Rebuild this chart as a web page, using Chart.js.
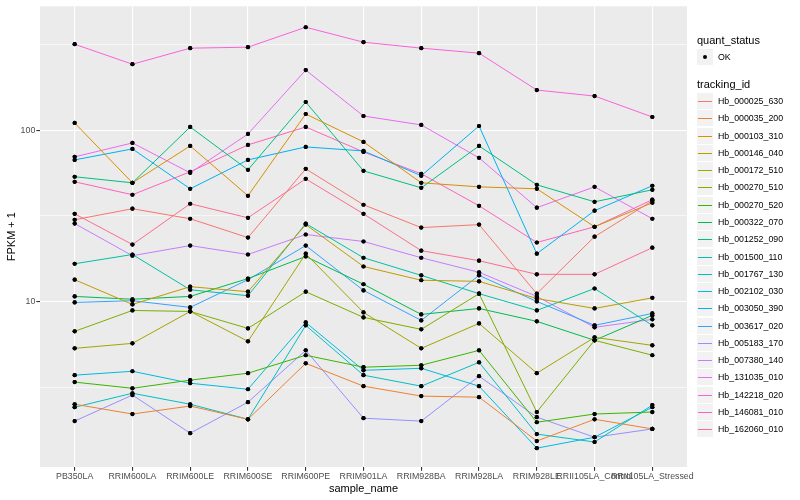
<!DOCTYPE html>
<html>
<head>
<meta charset="utf-8">
<script src="https://cdn.jsdelivr.net/npm/chart.js@4.4.1/dist/chart.umd.min.js"></script>
<style>
  html, body { margin: 0; padding: 0; background: #fff; }
  #wrap { position: relative; width: 800px; height: 500px; font-family: "Liberation Sans", Arial, sans-serif; }
  #wrap canvas { position: absolute; left: 0; top: 0; }
  .lg-title { position: absolute; left: 697px; font-size: 11px; line-height: 14px; height: 14px; color: #000; white-space: nowrap; }
  .lg-key { position: absolute; left: 697px; width: 16px; height: 16px; background: #F2F2F2; }
  .lg-line { position: absolute; left: 1px; right: 1px; top: 8px; height: 1px; }
  .lg-dot { position: absolute; left: 6px; top: 6px; width: 4px; height: 4px; border-radius: 2px; background: #000; }
  .lg-label { position: absolute; left: 718px; font-size: 8.8px; line-height: 12px; height: 12px; color: #000; white-space: nowrap; }
</style>
</head>
<body>
<div id="wrap">
  <canvas id="chart" width="800" height="500"></canvas>
</div>
<script>
// ---- data (FPKM + 1) ----
var categories = ['PB350LA', 'RRIM600LA', 'RRIM600LE', 'RRIM600SE', 'RRIM600PE', 'RRIM901LA',
                  'RRIM928BA', 'RRIM928LA', 'RRIM928LE', 'RRII105LA_Control', 'RRII105LA_Stressed'];
var yTicks = [10, 100];
var yMinorTicks = [3.162, 31.62, 316.2];

var hb_000025_630 = [30.0, 34.8, 30.4, 23.6, 59.5, 36.7, 27.0, 28.1, 11.1, 23.9, 38.7];
var hb_000035_200 = [2.51, 2.20, 2.45, 2.05, 4.35, 3.20, 2.80, 2.76, 1.53, 2.05, 1.80];
var hb_000103_310 = [110.3, 49.3, 81.0, 41.4, 124.4, 85.5, 49.3, 46.7, 45.5, 27.3, 37.7];
var hb_000146_040 = [13.4, 9.61, 12.2, 11.4, 28.1, 16.0, 13.3, 13.1, 10.4, 9.10, 10.5];
var hb_000172_510 = [5.32, 5.69, 8.74, 5.85, 19.0, 8.63, 5.32, 7.44, 3.81, 6.17, 5.54];
var hb_000270_510 = [6.69, 8.86, 8.74, 6.96, 11.4, 8.07, 6.87, 11.1, 2.26, 5.93, 4.85];
var hb_000270_520 = [3.38, 3.11, 3.47, 3.81, 4.85, 4.13, 4.24, 5.18, 1.97, 2.20, 2.26];
var hb_000322_070 = [10.7, 10.3, 10.7, 13.6, 18.3, 12.6, 8.40, 9.10, 7.65, 5.93, 8.29];
var hb_001252_090 = [53.5, 49.3, 104.5, 58.7, 146.2, 57.9, 46.1, 81.0, 48.0, 38.2, 44.9];
var hb_001500_110 = [16.6, 18.8, 11.7, 10.8, 28.5, 18.0, 14.2, 11.1, 8.86, 11.9, 7.25];
var hb_001767_130 = [2.41, 2.91, 2.51, 2.05, 7.25, 3.71, 3.20, 4.41, 1.68, 1.51, 2.48];
var hb_002102_030 = [3.71, 3.91, 3.33, 3.07, 7.54, 3.96, 4.07, 3.20, 1.39, 1.61, 2.41];
var hb_003050_390 = [67.1, 77.8, 45.5, 67.1, 79.9, 75.7, 54.2, 105.9, 19.0, 33.9, 47.4];
var hb_003617_020 = [9.87, 10.1, 9.23, 13.4, 21.2, 11.6, 7.75, 14.2, 10.0, 7.25, 8.51];
var hb_005183_170 = [2.00, 2.84, 1.70, 2.58, 5.18, 2.08, 2.00, 3.66, 2.11, 1.61, 1.80];
var hb_007380_140 = [28.5, 18.5, 21.2, 18.8, 24.6, 22.4, 18.0, 14.8, 10.7, 7.06, 7.86];
var hb_131035_010 = [69.9, 84.3, 56.4, 95.1, 224.5, 121.1, 107.4, 69.0, 35.3, 46.7, 30.4];
var hb_142218_020 = [318, 243, 301.6, 305.6, 399.6, 326.8, 301.6, 282, 171.7, 158.4, 119.5];
var hb_146081_010 = [50.0, 42.0, 57.2, 82.1, 104.5, 74.7, 55.7, 36.2, 22.1, 27.3, 39.3];
var hb_162060_010 = [32.5, 21.5, 37.2, 30.8, 52.0, 32.5, 19.8, 17.3, 14.4, 14.4, 20.6];

var seriesNames = ['Hb_000025_630', 'Hb_000035_200', 'Hb_000103_310', 'Hb_000146_040', 'Hb_000172_510',
                   'Hb_000270_510', 'Hb_000270_520', 'Hb_000322_070', 'Hb_001252_090', 'Hb_001500_110',
                   'Hb_001767_130', 'Hb_002102_030', 'Hb_003050_390', 'Hb_003617_020', 'Hb_005183_170',
                   'Hb_007380_140', 'Hb_131035_010', 'Hb_142218_020', 'Hb_146081_010', 'Hb_162060_010'];
var seriesValues = [hb_000025_630, hb_000035_200, hb_000103_310, hb_000146_040, hb_000172_510,
                    hb_000270_510, hb_000270_520, hb_000322_070, hb_001252_090, hb_001500_110,
                    hb_001767_130, hb_002102_030, hb_003050_390, hb_003617_020, hb_005183_170,
                    hb_007380_140, hb_131035_010, hb_142218_020, hb_146081_010, hb_162060_010];
var seriesColors = ['#F8766D', '#EA8331', '#D89000', '#C09B00', '#A3A500', '#7CAE00', '#39B600',
                    '#00BB4E', '#00BF7D', '#00C1A3', '#00BFC4', '#00BAE0', '#00B0F6', '#35A2FF',
                    '#9590FF', '#C77CFF', '#E76BF3', '#FA62DB', '#FF62BC', '#FF6C91'];

// ---- datasets ----
var datasets = seriesNames.map(function(name, s) {
    return {
        label: name,
        data: seriesValues[s].map(function(v, i) { return { x: i, y: v }; }),
        borderColor: seriesColors[s],
        borderWidth: 1,
        pointRadius: 2.1,
        pointBackgroundColor: '#000',
        pointBorderWidth: 0,
        tension: 0
    };
});

// grey panel like ggplot
var panelBg = {
    id: 'panelBg',
    beforeDraw: function(chart) {
        var a = chart.chartArea, ctx = chart.ctx;
        ctx.save();
        ctx.fillStyle = '#EBEBEB';
        ctx.fillRect(a.left, a.top, a.right - a.left, a.bottom - a.top);
        ctx.restore();
    }
};

// points are drawn after all lines
var pointsOnTop = {
    id: 'pointsOnTop',
    afterDatasetsDraw: function(chart) {
        var ctx = chart.ctx;
        chart.data.datasets.forEach(function(ds, i) {
            chart.getDatasetMeta(i).data.forEach(function(pt) { pt.draw(ctx, chart.chartArea); });
        });
    }
};

function isMajor(v) { return yTicks.indexOf(v) >= 0; }

new Chart(document.getElementById('chart'), {
    type: 'line',
    data: { datasets: datasets },
    options: {
        responsive: false,
        animation: false,
        layout: { padding: { left: 0, top: 5, right: 113, bottom: 0 } },
        plugins: { legend: { display: false }, tooltip: { enabled: false } },
        scales: {
            x: {
                type: 'linear',
                min: -0.6, max: 10.6,
                afterBuildTicks: function(s) { s.ticks = categories.map(function(c, i) { return { value: i }; }); },
                afterFit: function(s) { s.height = 33; },
                ticks: {
                    autoSkip: false, maxRotation: 0, minRotation: 0, padding: 1,
                    color: '#4D4D4D', font: { family: 'Liberation Sans', size: 8.8 },
                    callback: function(v) { return categories[v]; }
                },
                grid: { color: '#FFFFFF', lineWidth: 1.1, tickLength: 3.7, tickColor: '#333333', drawOnChartArea: true },
                border: { display: false },
                title: { display: true, text: 'sample_name', color: '#000', font: { family: 'Liberation Sans', size: 11 }, padding: { top: 0, bottom: 4 } }
            },
            y: {
                type: 'logarithmic',
                min: 1.079, max: 529.7,
                afterBuildTicks: function(s) {
                    s.ticks = yMinorTicks.concat(yTicks).sort(function(a, b) { return a - b; })
                        .map(function(v) { return { value: v }; });
                },
                afterFit: function(s) { s.width = 40; },
                ticks: {
                    padding: 1, color: '#4D4D4D', font: { family: 'Liberation Sans', size: 8.8 },
                    callback: function(v) { return isMajor(v) ? String(v) : ''; }
                },
                grid: {
                    color: '#FFFFFF',
                    lineWidth: function(c) { return c.tick && isMajor(c.tick.value) ? 1.1 : 0.55; },
                    tickLength: 3.7,
                    tickColor: function(c) { return c.tick && isMajor(c.tick.value) ? '#333333' : 'rgba(0,0,0,0)'; }
                },
                border: { display: false },
                title: { display: true, text: 'FPKM + 1', color: '#000', font: { family: 'Liberation Sans', size: 11 }, padding: { top: 5, bottom: 0 } }
            }
        }
    },
    plugins: [panelBg, pointsOnTop]
});

// ---- legend (two guides, as ggplot draws them) ----
var wrap = document.getElementById('wrap');
function addDiv(cls, top, html, parent) {
    var d = document.createElement('div');
    d.className = cls;
    if (top !== null) d.style.top = top + 'px';
    if (html) d.innerHTML = html;
    (parent || wrap).appendChild(d);
    return d;
}
addDiv('lg-title', 33, 'quant_status');
var okKey = addDiv('lg-key', 49);
addDiv('lg-dot', null, '', okKey);
addDiv('lg-label', 51, 'OK');
addDiv('lg-title', 77, 'tracking_id');
seriesNames.forEach(function(name, i) {
    var cy = Math.round(101 + i * 17.28);
    var key = addDiv('lg-key', cy - 8);
    addDiv('lg-line', null, '', key).style.background = seriesColors[i];
    addDiv('lg-label', cy - 6, name);
});
</script>
</body>
</html>
